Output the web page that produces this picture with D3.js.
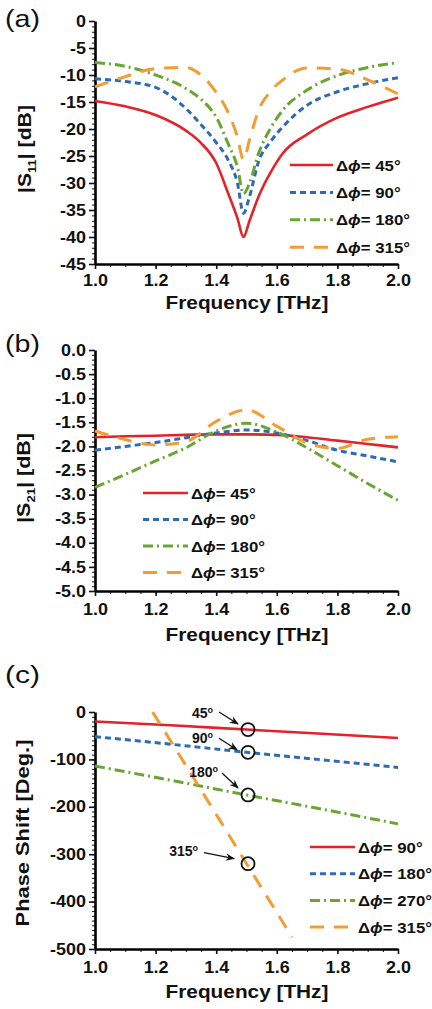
<!DOCTYPE html>
<html>
<head>
<meta charset="utf-8">
<script src="https://cdn.jsdelivr.net/npm/d3@7"></script>
<style>
body { margin: 0; background: #fff; }
text { font-family: "Liberation Sans", Arial, sans-serif; font-weight: bold; fill: #111; }
text.plabel { font-weight: normal; }
</style>
</head>
<body>
<script>
// ---- data ----
const freqA = [1.0,1.1,1.2,1.3,1.35,1.4,1.44,1.47,1.49,1.51,1.54,1.58,1.62,1.7,1.8,1.9,2.0]
const s11_45  = [-14.8,-15.8,-17.4,-20.3,-22.6,-26.3,-32,-36.5,-40,-37,-32.5,-28,-24.5,-21,-17.9,-15.9,-14.2]
const s11_90  = [-10.7,-11.2,-12.3,-16.2,-19.2,-22.5,-25.8,-30,-35.6,-32.5,-26,-22.3,-19.6,-15.6,-13.1,-11.6,-10.5]
const s11_180 = [-7.7,-8.4,-10.0,-12.5,-14.5,-17.8,-22.8,-27,-32,-30,-24.5,-19.8,-16.5,-12.8,-10.1,-8.6,-7.7]
const s11_315 = [-12.2,-10.3,-8.8,-8.6,-10,-13.2,-17,-21.5,-25.7,-22,-16.5,-13,-10.9,-8.7,-8.9,-10.9,-13.5]

const freqB = [1.0,1.1,1.2,1.3,1.4,1.5,1.6,1.7,1.8,1.9,2.0]
const s21_45  = [-1.81,-1.79,-1.78,-1.76,-1.75,-1.75,-1.76,-1.81,-1.88,-1.95,-2.02]
const s21_90  = [-2.08,-2.0,-1.92,-1.82,-1.72,-1.66,-1.72,-1.88,-2.08,-2.2,-2.32]
const s21_180 = [-2.85,-2.58,-2.3,-2.03,-1.68,-1.52,-1.7,-2.03,-2.4,-2.77,-3.12]
const s21_315 = [-1.68,-1.86,-1.97,-1.9,-1.48,-1.24,-1.58,-1.93,-2.04,-1.85,-1.8]

const freqC = [1.0,1.25,1.5,1.75,2.0]
const ph_90  = [-20,-28,-37,-46,-55]
const ph_180 = [-52,-68,-85,-101,-117]
const ph_270 = [-114,-144,-175,-205,-236]
const freqC315 = [1.19,1.3,1.4,1.5,1.6,1.65]
const ph_315 = [0,-113,-216,-320,-423,-475]

const legendAB = ['45','90','180','315']
const legendC  = ['90','180','270','315']
const annoText = ['45','90','180','315']
const annoFreq = 1.505
const annoVal  = [-37,-85,-175,-320]

const xTicks = [1.0,1.2,1.4,1.6,1.8,2.0]
const xMinor = d3.range(0,21).map(i => 1 + i*0.05)

// ---- style ----
const colors = ['#e3222a','#2e6bb3','#6aa533','#f39c32']
const dashes = [null,'6,4','10,4,2,4','14,10']
const widths = [2.6,3,3,3]

const svg = d3.select('body').append('svg')
  .attr('width', 432).attr('height', 1009)

const stretch = (sel, k) => sel.each(function(){
  const t = d3.select(this)
  const n = this.getComputedTextLength()
  t.attr('textLength', n*k).attr('lengthAdjust','spacingAndGlyphs')
})
const fitTo = (t, w) => {
  const n = t.node().getComputedTextLength()
  t.attr('transform', t.attr('transform') + ` scale(${w/n},1)`)
}

const phiLabel = (g, px, py, deg) => {
  const t = g.append('text').attr('transform', `translate(${px},${py})`)
    .attr('font-size', 15)
  t.append('tspan').text('Δ')
  t.append('tspan').attr('font-style','italic').text('ϕ')
  t.append('tspan').text('= ' + deg + '°')
  fitTo(t, t.node().getComputedTextLength()*1.12)
}

function panel(p) {
  const x = d3.scaleLinear().domain([1,2]).range([95,398])
  const y = d3.scaleLinear().domain(p.ydom).range([p.y0, p.y1])
  const g = svg.append('g')

  // minor ticks
  g.append('g').attr('transform', `translate(0,${p.y0})`)
    .call(d3.axisBottom(x).tickValues(xMinor).tickSize(3).tickFormat(''))
    .call(a => a.select('.domain').remove())
  g.append('g').attr('transform', 'translate(95,0)')
    .call(d3.axisLeft(y).tickValues(p.minorY).tickSize(3).tickFormat(''))
    .call(a => a.select('.domain').remove())

  const xa = g.append('g').attr('transform', `translate(0,${p.y0})`)
    .call(d3.axisBottom(x).tickValues(xTicks).tickSize(5).tickSizeOuter(0)
      .tickPadding(p.xpad).tickFormat(d => d.toFixed(1)))
  const ya = g.append('g').attr('transform', 'translate(95,0)')
    .call(d3.axisLeft(y).tickValues(p.majorY).tickSize(6).tickSizeOuter(0)
      .tickPadding(3).tickFormat(p.fmt))
  ;[xa, ya].forEach(a => {
    a.attr('font-size', 16).attr('font-family', null)
    a.select('.domain').attr('stroke-width', 2.6)
    a.selectAll('.tick line').attr('stroke-width', 1.6)
    stretch(a.selectAll('text'), 1.12)
  })
  g.selectAll('.tick line').attr('stroke', '#111')

  // curves
  const line = d3.line().x(d => x(d[0])).y(d => y(d[1])).curve(d3.curveMonotoneX)
  p.series.forEach((s, i) => {
    g.append('path')
      .datum(d3.zip(s.f, s.v))
      .attr('d', line)
      .attr('fill', 'none')
      .attr('stroke', colors[i])
      .attr('stroke-width', widths[i])
      .attr('stroke-dasharray', dashes[i])
  })

  // legend
  p.legend.forEach((lab, i) => {
    const ly = p.leg.y + i*p.leg.dy
    g.append('line')
      .attr('x1', p.leg.x1).attr('x2', p.leg.x2)
      .attr('y1', ly).attr('y2', ly)
      .attr('stroke', colors[i]).attr('stroke-width', widths[i])
      .attr('stroke-dasharray', dashes[i])
    phiLabel(g, p.leg.x2 + 3, ly + 5.5, lab)
  })

  // axis titles
  const xt = g.append('text').attr('transform', `translate(247,${p.xtY})`)
    .attr('text-anchor', 'middle').attr('font-size', 18).text('Frequency [THz]')
  fitTo(xt, 163)

  const yt = g.append('text').attr('transform', `translate(${p.ytX},${p.ytY}) rotate(-90)`)
    .attr('text-anchor', 'middle').attr('font-size', 18)
  p.ytitle(yt)
  fitTo(yt, p.ytW)

  const pl = g.append('text').attr('class', 'plabel')
    .attr('transform', `translate(5,${p.plY})`)
    .attr('font-size', 24).text(p.plabel)
  fitTo(pl, 35)

  return {x, y, g}
}

const sTitle = sub => t => {
  t.append('tspan').text('|S')
  t.append('tspan').attr('font-size', 11).attr('dy', 5).text(sub)
  t.append('tspan').attr('dy', -5).text('| [dB]')
}

// (a)
panel({
  ydom: [-45, 0], y0: 264, y1: 21,
  majorY: d3.range(-45, 1, 5), minorY: d3.range(-45, 1, 1), fmt: d => String(d),
  xpad: 6,
  series: [
    {f: freqA, v: s11_45}, {f: freqA, v: s11_90},
    {f: freqA, v: s11_180}, {f: freqA, v: s11_315}
  ],
  legend: legendAB, leg: {x1: 290, x2: 333, y: 165, dy: 27.4},
  xtY: 309, ytX: 31, ytY: 149, ytW: 88, ytitle: sTitle('11'),
  plabel: '(a)', plY: 27
})

// (b)
panel({
  ydom: [-5, 0], y0: 591, y1: 350,
  majorY: d3.range(0, 11).map(i => -5 + i*0.5), minorY: d3.range(0, 51).map(i => -5 + i*0.1),
  fmt: d => d.toFixed(1),
  xpad: 8,
  series: [
    {f: freqB, v: s21_45}, {f: freqB, v: s21_90},
    {f: freqB, v: s21_180}, {f: freqB, v: s21_315}
  ],
  legend: legendAB, leg: {x1: 143, x2: 188, y: 493, dy: 26.5},
  xtY: 641, ytX: 30, ytY: 478, ytW: 90, ytitle: sTitle('21'),
  plabel: '(b)', plY: 352
})

// (c)
const pc = panel({
  ydom: [-500, 0], y0: 949, y1: 712,
  majorY: d3.range(-500, 1, 100), minorY: d3.range(-500, 1, 10), fmt: d => String(d),
  xpad: 8,
  series: [
    {f: freqC, v: ph_90}, {f: freqC, v: ph_180},
    {f: freqC, v: ph_270}, {f: freqC315, v: ph_315}
  ],
  legend: legendC, leg: {x1: 310, x2: 355, y: 847, dy: 26.7},
  xtY: 998, ytX: 29, ytY: 833, ytW: 187,
  ytitle: t => t.text('Phase Shift [Deg.]'),
  plabel: '(c)', plY: 683
})

// annotations in (c)
svg.append('defs').append('marker')
  .attr('id', 'arr').attr('viewBox', '0 0 10 10')
  .attr('refX', 9).attr('refY', 5)
  .attr('markerWidth', 7).attr('markerHeight', 7)
  .attr('orient', 'auto')
  .append('path').attr('d', 'M0,1 L10,5 L0,9 L3,5 Z').attr('fill', '#111')

const annoLayout = [
  {tx: -35, ty: -11.5, a: [-29, -17.5, -10, -5.5]},
  {tx: -35, ty: -9,    a: [-29, -14, -11, -2.5]},
  {tx: -30, ty: -18,   a: [-26, -22, -10, -7]},
  {tx: -50, ty: -8,    a: [-44, -11, -14, -5]}
]
annoText.forEach((lab, i) => {
  const cx = pc.x(annoFreq), cy = pc.y(annoVal[i])
  const L = annoLayout[i]
  pc.g.append('circle').attr('cx', cx).attr('cy', cy).attr('r', 6.5)
    .attr('fill', 'none').attr('stroke', '#111').attr('stroke-width', 1.8)
  pc.g.append('line')
    .attr('x1', cx + L.a[0]).attr('y1', cy + L.a[1])
    .attr('x2', cx + L.a[2]).attr('y2', cy + L.a[3])
    .attr('stroke', '#111').attr('stroke-width', 1.3)
    .attr('marker-end', 'url(#arr)')
  const t = pc.g.append('text').attr('x', cx + L.tx).attr('y', cy + L.ty)
    .attr('text-anchor', 'end').attr('font-size', 14)
  t.append('tspan').text(lab)
  t.append('tspan').attr('font-size', 9).attr('dy', -5).text('o')
})
</script>
</body>
</html>
